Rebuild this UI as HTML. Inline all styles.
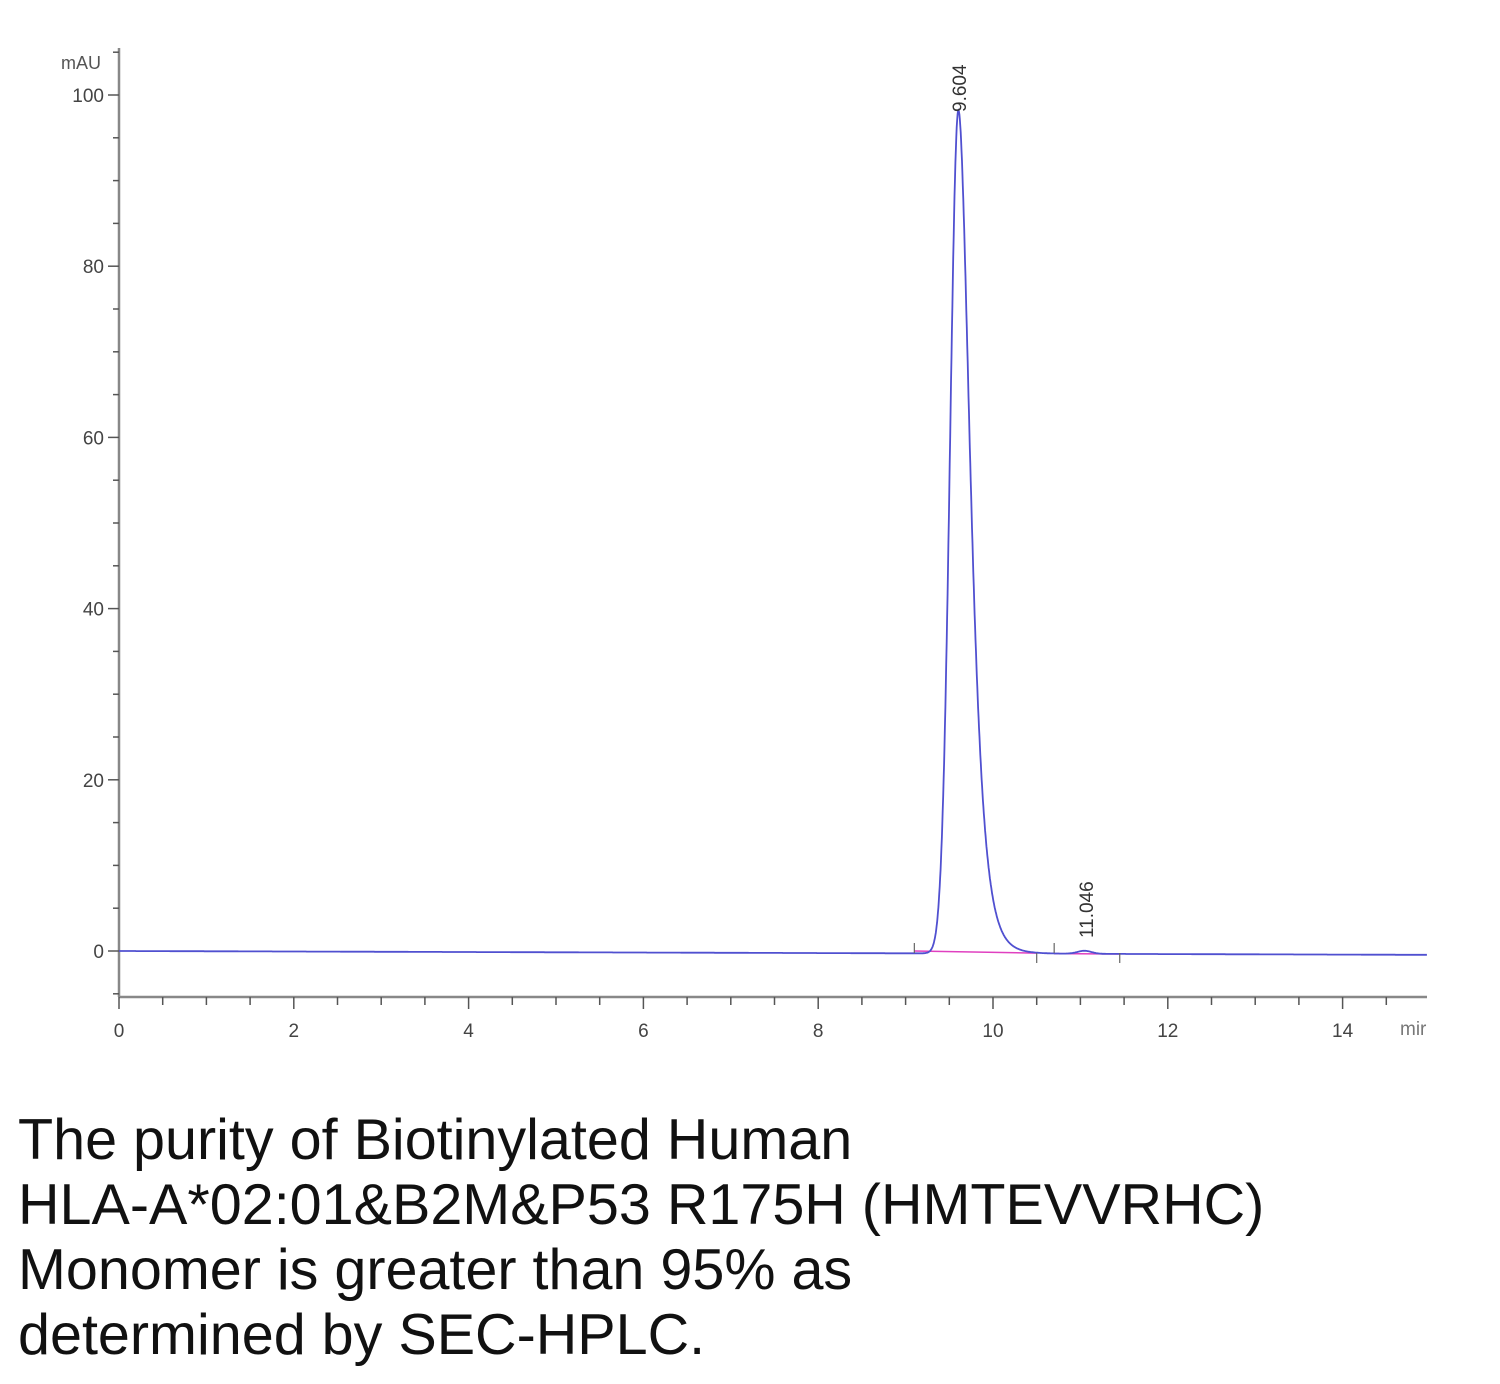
<!DOCTYPE html>
<html><head><meta charset="utf-8"><style>
body{margin:0;background:#fff;width:1500px;height:1384px;overflow:hidden;position:relative}
svg{position:absolute;left:0;top:0}
.cap{position:absolute;left:18px;top:1108px;font-family:"Liberation Sans",sans-serif;font-size:57.5px;line-height:65px;color:#111;white-space:nowrap}
</style></head><body>
<svg id="s" width="1500" height="1080" font-family="Liberation Sans, sans-serif"></svg>
<div class="cap">The purity of Biotinylated Human<br>HLA-A*02:01&amp;B2M&amp;P53 R175H (HMTEVVRHC)<br>Monomer is greater than 95% as<br>determined by SEC-HPLC.</div>
<script>
const s=document.getElementById('s');let h='';
const X=t=>119+t*87.4, Y=v=>951-v*8.56;
h+='<line x1="119" y1="48" x2="119" y2="997" stroke="#888" stroke-width="2.5"/>';
for(let v=-5;v<=105;v+=5){const y=Y(v);if(y>995)continue;const maj=v%20==0;h+=`<line x1="${maj?108:113}" y1="${y}" x2="119" y2="${y}" stroke="#555" stroke-width="1.5"/>`;if(maj)h+=`<text x="104" y="${y+7}" font-size="19" text-anchor="end" fill="#444">${v}</text>`;}
h+='<text x="101" y="69" font-size="18" text-anchor="end" fill="#555">mAU</text>';
h+='<line x1="119" y1="997" x2="1427" y2="997" stroke="#888" stroke-width="2.5"/>';
for(let t=0;t<=15;t+=0.5){const x=X(t);if(x>1427)continue;const maj=t%2==0;h+=`<line x1="${x}" y1="997" x2="${x}" y2="${maj?1009:1005}" stroke="#555" stroke-width="1.5"/>`;if(maj)h+=`<text x="${x}" y="1037" font-size="19" text-anchor="middle" fill="#444">${t}</text>`;}
h+='<text x="1400" y="1035" font-size="19" fill="#777">mir</text>';
let d='';
for(let t=0;t<=15;t+=0.005){const x=X(t);if(x>1427)break;
let v=-0.45*t/15;
const dt=t-9.604, sg=dt<0?0.095:0.11+Math.max(0,dt)*0.15;
v+=98.5*Math.exp(-dt*dt/(2*sg*sg));
v+=0.35*Math.exp(-Math.pow(t-11.046,2)/(2*0.08*0.08));
d+=(d?'L':'M')+x.toFixed(1)+','+Y(v).toFixed(1);}
h+=`<line x1="${X(9.1)}" y1="${Y(0)}" x2="${X(10.5)}" y2="${Y(-0.25)}" stroke="#e040c0" stroke-width="1.5"/>`;
h+=`<line x1="${X(10.7)}" y1="${Y(-0.3)}" x2="${X(11.45)}" y2="${Y(-0.35)}" stroke="#e040c0" stroke-width="1.5"/>`;
h+=`<path d="${d}" fill="none" stroke="#5050d0" stroke-width="1.8"/>`;
[[9.1,-1],[10.5,1],[10.7,-1],[11.45,1]].forEach(([t,dir])=>{const x=X(t);h+=`<line x1="${x}" y1="${953}" x2="${x}" y2="${953+dir*10}" stroke="#666" stroke-width="1.2"/>`;});
h+=`<text transform="translate(966,112) rotate(-90)" font-size="19" fill="#333">9.604</text>`;
h+=`<text transform="translate(1093,938) rotate(-90)" font-size="19" fill="#333">11.046</text>`;
s.innerHTML=h;
</script>
</body></html>
